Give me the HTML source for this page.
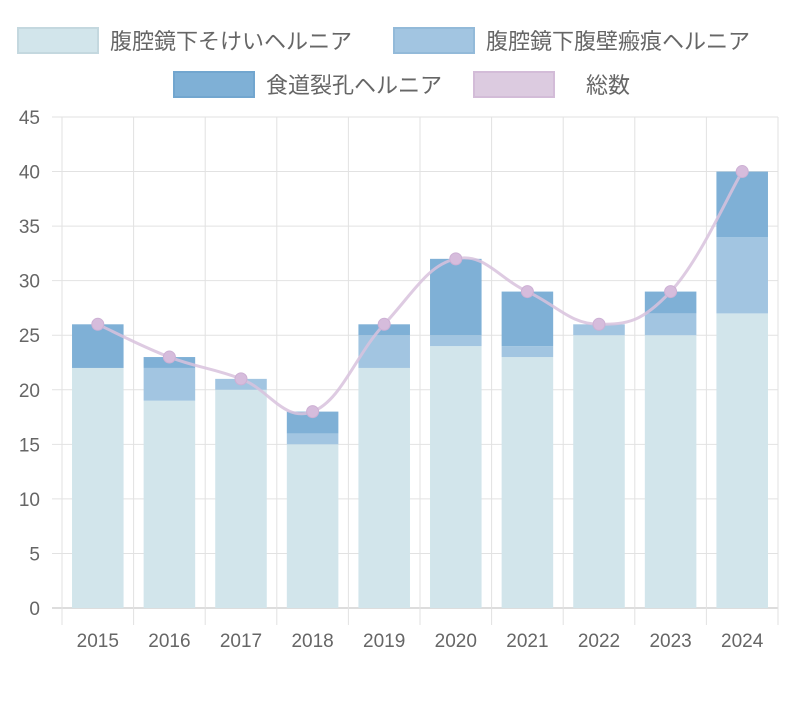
<!DOCTYPE html>
<html><head><meta charset="utf-8">
<style>
body{margin:0;background:#fff;}
svg text{font-family:"Liberation Sans","Noto Sans CJK JP",sans-serif;fill:#666;}
</style></head>
<body>
<svg id="c" width="812" height="700" xmlns="http://www.w3.org/2000/svg">
<g id="legend">
  <g>
    <rect x="18" y="28" width="80" height="25" fill="#d2e5eb" stroke="#c4d8df" stroke-width="2"/>
    <text x="110" y="49" font-size="22">腹腔鏡下そけいヘルニア</text>
  </g>
  <g>
    <rect x="394" y="28" width="80" height="25" fill="#a2c5e1" stroke="#93bad9" stroke-width="2"/>
    <text x="486" y="49" font-size="22">腹腔鏡下腹壁瘢痕ヘルニア</text>
  </g>
  <g>
    <rect x="174" y="72" width="80" height="25" fill="#7fb0d6" stroke="#72a6cf" stroke-width="2"/>
    <text x="266" y="93" font-size="22">食道裂孔ヘルニア</text>
  </g>
  <g>
    <rect x="474" y="72" width="80" height="25" fill="#dccbe0" stroke="#d3bcd8" stroke-width="2"/>
    <text x="586" y="93" font-size="22">総数</text>
  </g>
</g>
<g id="grid"></g>
<g id="bars"></g>
<g id="line"></g>
<g id="axes"></g>
</svg>
<script>
const categories=["2015","2016","2017","2018","2019","2020","2021","2022","2023","2024"];
const inguinal=[22,19,20,15,22,24,23,25,25,27];
const incisional=[0,3,1,1,3,1,1,1,2,7];
const hiatal=[4,1,0,2,1,7,5,0,2,6];
const totals=[26,23,21,18,26,32,29,26,29,40];
const yTicks=[0,5,10,15,20,25,30,35,40,45];
const NS="http://www.w3.org/2000/svg";
const L=62,R=778,T=117,B=608,YMAX=45;
const cw=(R-L)/categories.length;
const y=v=>B-(v/YMAX)*(B-T);
const xc=i=>L+cw*(i+0.5);
function mk(tag,attrs,parent){const e=document.createElementNS(NS,tag);for(const k in attrs)e.setAttribute(k,attrs[k]);parent.appendChild(e);return e;}
const grid=document.getElementById('grid'),bars=document.getElementById('bars'),line=document.getElementById('line'),axes=document.getElementById('axes');
yTicks.forEach(t=>{
  const g=mk('line',{x1:L-10,x2:R,y1:y(t),y2:y(t),stroke:t===0?'#bbb':'#e2e2e2','stroke-width':1},grid);
  
  
  const tx=mk('text',{x:L-22,y:y(t)+7,'font-size':19,'text-anchor':'end'},axes);
  tx.textContent=t;
  
  
});
for(let i=0;i<=categories.length;i++){
  const x=L+cw*i;
  const g=mk('line',{x1:x,x2:x,y1:T,y2:B+17,stroke:'#e2e2e2','stroke-width':1},grid);
  
  
}
const bw=cw*0.72;
categories.forEach((c,i)=>{
  const x=xc(i)-bw/2;
  let base=0;
  [[inguinal,'#d2e5eb','bar-inguinal'],[incisional,'#a2c5e1','bar-incisional'],[hiatal,'#7fb0d6','bar-hiatal']].forEach(([arr,col,name])=>{
    const v=arr[i];
    if(v>0){
      const r=mk('rect',{x:x,y:y(base+v),width:bw,height:y(base)-y(base+v),fill:col},bars);
      
      
    }
    base+=v;
  });
  const tx=mk('text',{x:xc(i),y:B+39,'font-size':19,'text-anchor':'middle'},axes);
  tx.textContent=c;
  
  
});
// smooth line (cardinal-ish, tension 0.4)
const pts=totals.map((v,i)=>[xc(i),y(v)]);
let d='M'+pts[0][0]+','+pts[0][1];
const t=0.4;
for(let i=0;i<pts.length-1;i++){
  const p0=pts[Math.max(0,i-1)],p1=pts[i],p2=pts[i+1],p3=pts[Math.min(pts.length-1,i+2)];
  const c1=[p1[0]+(p2[0]-p0[0])*t/2,p1[1]+(p2[1]-p0[1])*t/2];
  const c2=[p2[0]-(p3[0]-p1[0])*t/2,p2[1]-(p3[1]-p1[1])*t/2];
  d+=' C'+c1[0]+','+c1[1]+' '+c2[0]+','+c2[1]+' '+p2[0]+','+p2[1];
}
const path=mk('path',{d:d,fill:'none',stroke:'#d8c2dd','stroke-width':3,opacity:0.85},line);


pts.forEach((p,i)=>{
  const cc=mk('circle',{cx:p[0],cy:p[1],r:6,fill:'#d6bcdc',stroke:'#cdb0d4','stroke-width':1},line);
  
  
});
</script>
</body></html>
